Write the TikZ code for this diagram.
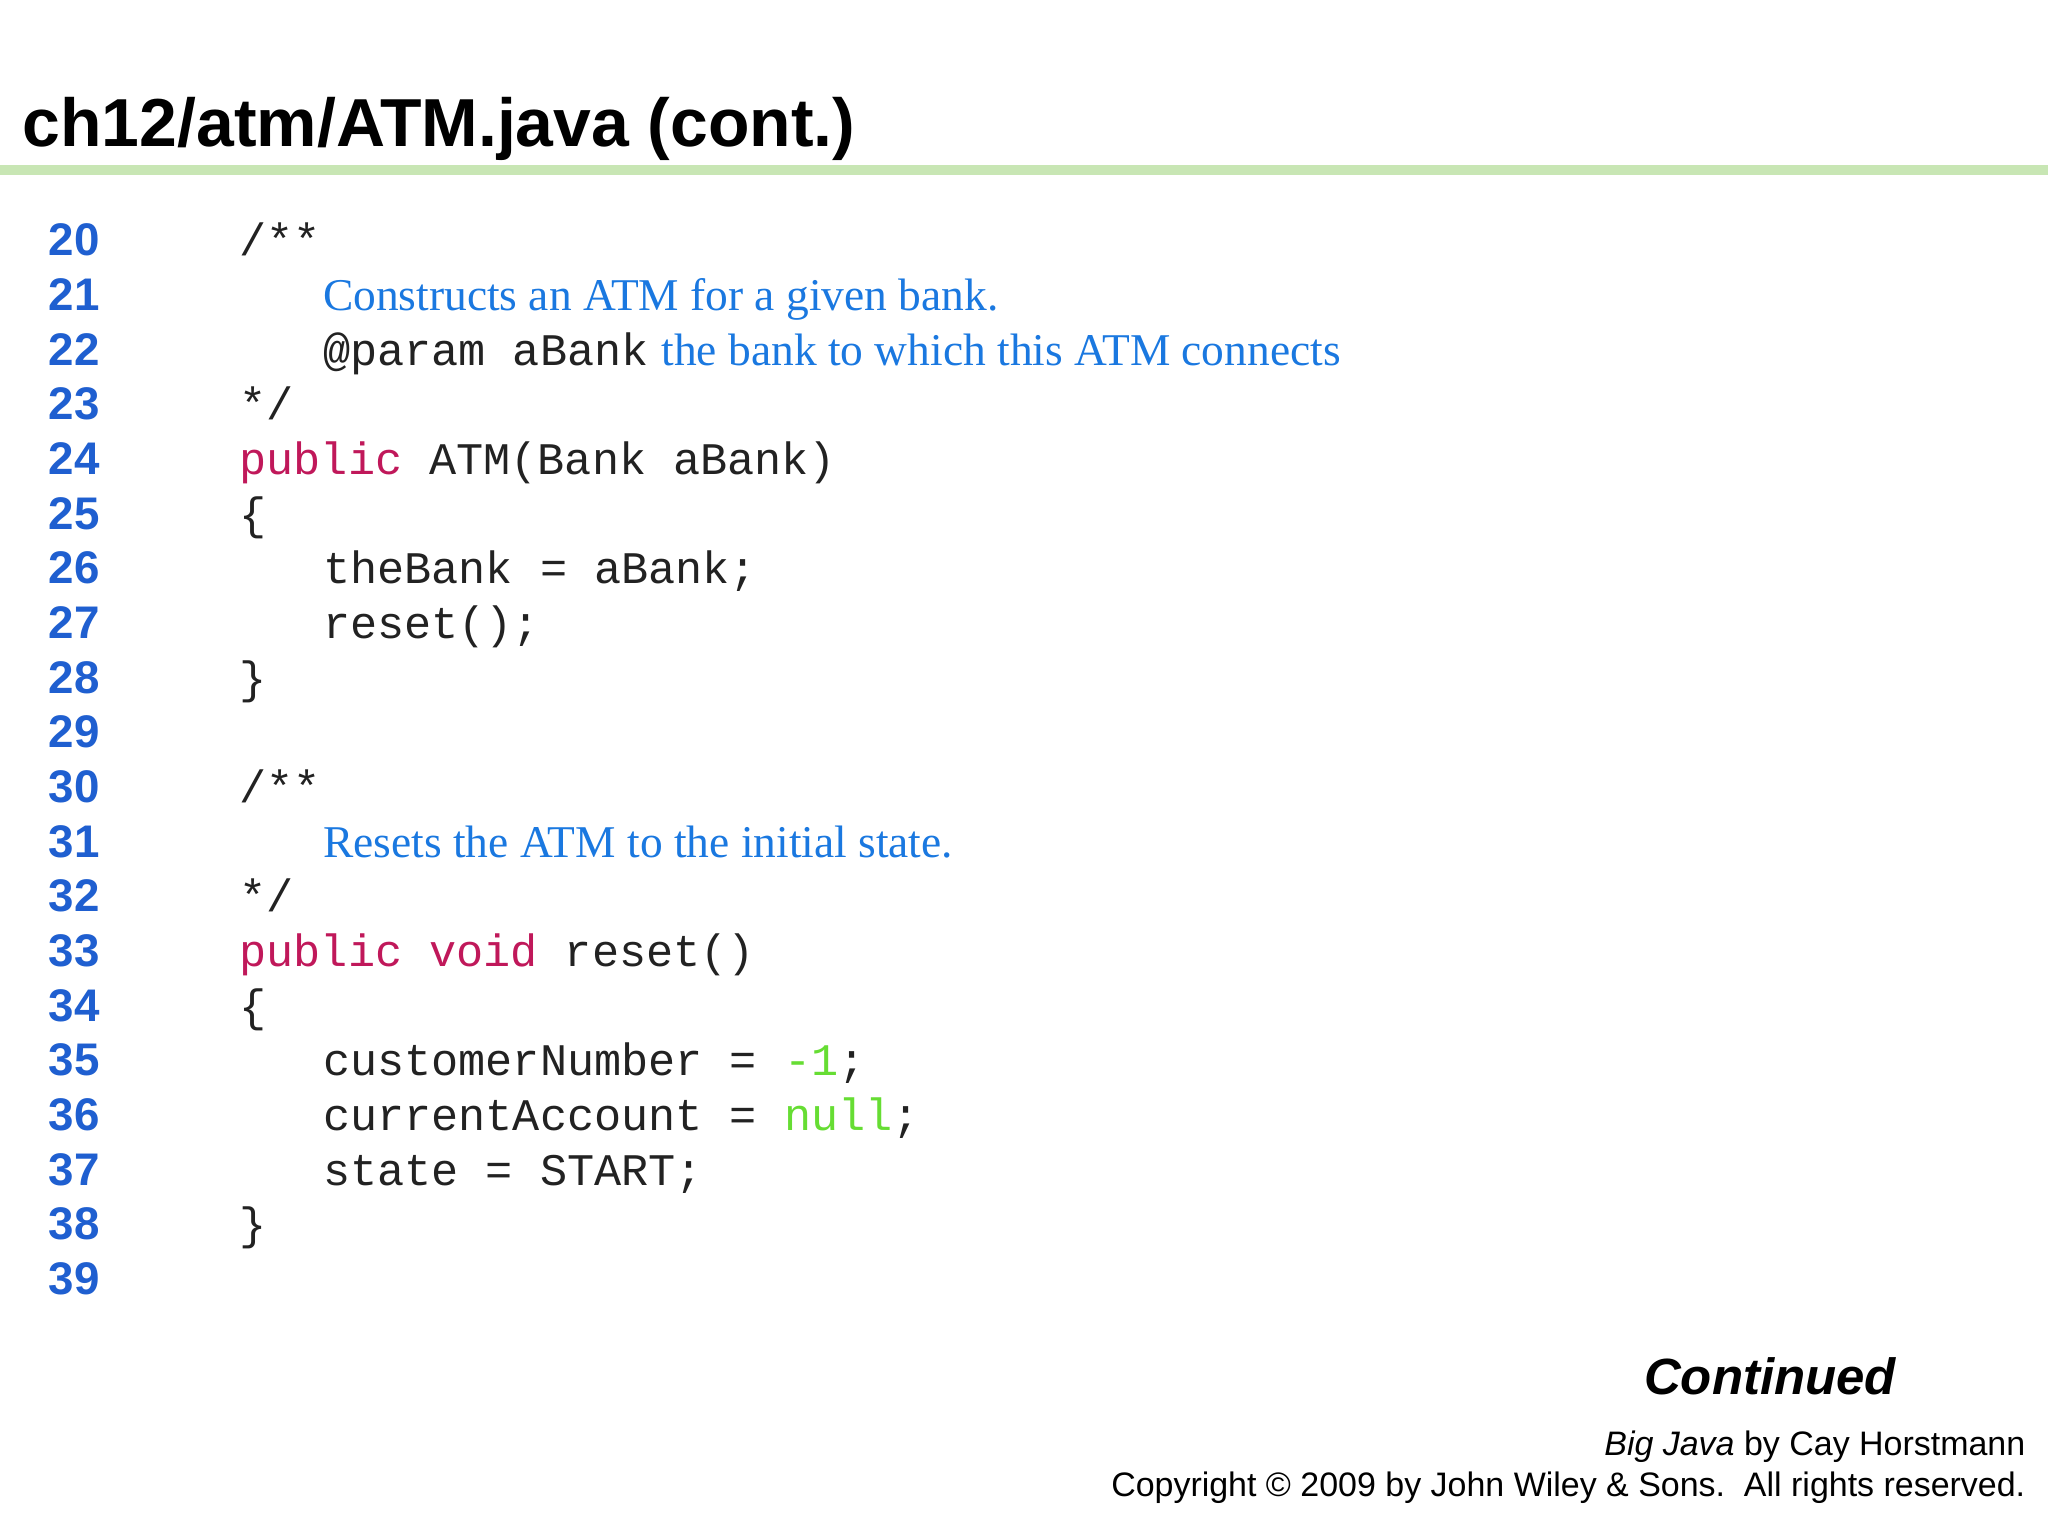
\documentclass[tikz,border=0pt]{standalone}
\usepackage{fontspec}
\setmainfont{Liberation Serif}
\setsansfont{Liberation Sans}
\setmonofont{Liberation Mono}
\definecolor{lnum}{HTML}{1F5FD0}
\definecolor{cmt}{HTML}{1A78E0}
\definecolor{kw}{HTML}{C0185A}
\definecolor{lit}{HTML}{66DD33}
\definecolor{rule}{HTML}{C8E6B4}
\definecolor{code}{HTML}{222222}
\begin{document}
\begin{tikzpicture}[x=0.5pt,y=-0.5pt,
  num/.style={anchor=base west,inner sep=0,font=\sffamily\bfseries\fontsize{17.5}{20}\selectfont,text=lnum},
  cl/.style={anchor=base west,inner sep=0,font=\ttfamily\fontsize{17.3}{20}\selectfont,text=code},
  ttl/.style={anchor=base west,inner sep=0,font=\sffamily\bfseries\fontsize{26}{30}\selectfont},
  foot/.style={anchor=base east,inner sep=0,font=\sffamily\fontsize{13}{15}\selectfont}]
\useasboundingbox (0,0) rectangle (1568,1176);
\fill[white] (0,0) rectangle (1568,1176);
\node[ttl] (title) at (17,112) {ch12/atm/ATM.java (cont.)};
\fill[rule] (0,126) rectangle (1568,134);
\foreach \n [count=\i from 0] in {20,...,39}
  \node[num] (n\n) at (37,{196+41.85*\i}) {\n};
\newcommand{\cm}[1]{{\rmfamily\fontsize{17.4}{20}\selectfont\color{cmt}#1}}
\newcommand{\kwd}[1]{\textcolor{kw}{#1}}
\newcommand{\lt}[1]{\textcolor{lit}{#1}}
\def\A{183}\def\B{247}
\node[cl] (c20) at (\A,196) {/**};
\node[cl] (c21) at (\B,237.85) {\cm{Constructs an ATM for a given bank.}};
\node[cl] (c22) at (\B,279.7) {@param aBank\hspace{5pt}\cm{the bank to which this ATM connects}};
\node[cl] (c23) at (\A,321.55) {*/};
\node[cl] (c24) at (\A,363.4) {\kwd{public} ATM(Bank aBank)};
\node[cl] (c25) at (\A,405.25) {\{};
\node[cl] (c26) at (\B,447.1) {theBank = aBank;};
\node[cl] (c27) at (\B,488.95) {reset();};
\node[cl] (c28) at (\A,530.8) {\}};
\node[cl] (c30) at (\A,614.5) {/**};
\node[cl] (c31) at (\B,656.35) {\cm{Resets the ATM to the initial state.}};
\node[cl] (c32) at (\A,698.2) {*/};
\node[cl] (c33) at (\A,740.05) {\kwd{public} \kwd{void} reset()};
\node[cl] (c34) at (\A,781.9) {\{};
\node[cl] (c35) at (\B,823.75) {customerNumber = \lt{-1};};
\node[cl] (c36) at (\B,865.6) {currentAccount = \lt{null};};
\node[cl] (c37) at (\B,907.45) {state = START;};
\node[cl] (c38) at (\A,949.3) {\}};
\node[anchor=base east,inner sep=0,font=\sffamily\bfseries\itshape\fontsize{19.5}{22}\selectfont] (cont) at (1452,1068) {Continued};
\node[foot] (f1) at (1551,1114) {\textit{Big Java} by Cay Horstmann};
\node[foot] (f2) at (1551,1146) {Copyright © 2009 by John Wiley \& Sons.\ \ All rights reserved.};
\end{tikzpicture}
\end{document}
